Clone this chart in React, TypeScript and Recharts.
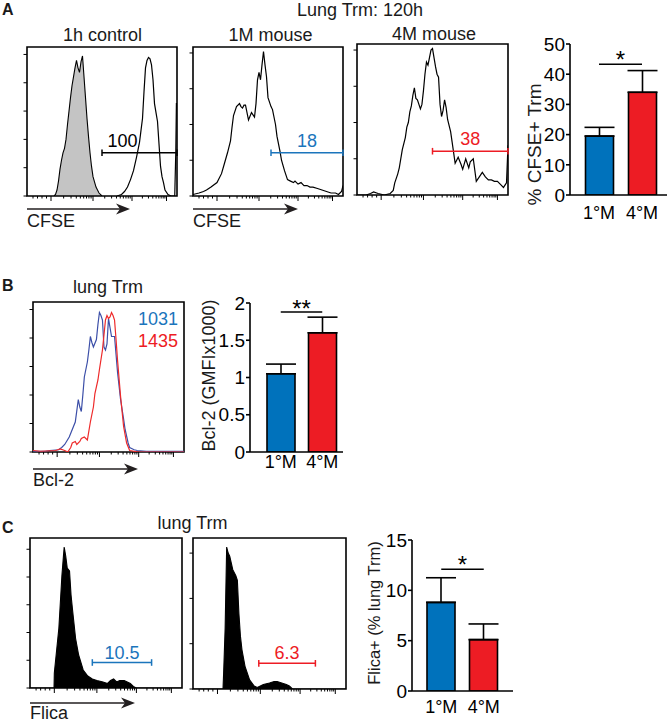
import React from "react"
import {
  ComposedChart,
  Area,
  Line,
  XAxis,
  YAxis,
  ReferenceArea,
  ReferenceLine,
  BarChart,
  Bar,
  Cell,
  ErrorBar,
} from "recharts"

const FONT = '"Liberation Sans", Arial, Helvetica, sans-serif'
const BLUE = "#0072bc"
const RED = "#ed1c24"
const GATE_BLUE = "#1b75bc"

// flow histograms: [channel position 0-100, % of max]
const ctrl1h: [number, number][] = [
  [18, 0], [19, 1], [20, 4], [21, 10], [22, 18], [23, 24], [24, 29], [25, 32], [26, 38], [27, 48],
  [28, 57], [29, 66], [30, 74], [31, 80], [32, 86], [33, 91], [34, 86], [35, 83], [36, 90], [37, 94],
  [38, 80], [39, 66], [40, 52], [41, 40], [42, 29], [43, 20], [44, 13], [46, 6], [48, 2], [50, 0],
]
const div1h: [number, number][] = [
  [60, 0], [63, 1], [65, 3], [67, 6], [69, 11], [71, 17], [73, 26], [75, 36], [76, 44], [77, 52],
  [78, 70], [79, 86], [80, 91], [81, 93], [82, 92], [83, 88], [84, 78], [85, 62], [86, 56], [87, 50],
  [88, 35], [89, 20], [90, 13], [91, 9], [92, 4], [94, 1], [96, 0], [98.5, 0], [99.2, 30], [99.6, 62], [100, 62],
]
const cfse1M: [number, number][] = [
  [0, 1], [4, 2], [7, 3], [9, 4], [12, 6], [16, 9], [19, 15], [21, 22], [23, 29], [25, 37],
  [26, 46], [27, 54], [29, 60], [31, 62], [32, 60], [33, 59], [34, 61], [35, 61], [37, 51], [39, 56],
  [41, 53], [42, 62], [43, 78], [44, 83], [45, 78], [46, 88], [47, 97], [48, 88], [49, 80], [50, 66],
  [52, 60], [53, 58], [55, 48], [56, 40], [58, 30], [59, 24], [61, 17], [63, 11], [65, 10], [67, 9],
  [68, 10], [70, 8], [72, 9], [74, 7], [76, 7], [78, 6], [80, 6], [83, 5], [86, 4], [89, 3],
  [92, 2], [95, 2], [97, 1], [99, 3], [100, 7],
]
const cfse4M: [number, number][] = [
  [0, 0], [6, 0], [9, 1], [11, 2], [14, 1], [18, 0], [22, 1], [24, 3], [25, 8], [27, 14],
  [28, 18], [30, 30], [32, 38], [33, 45], [34, 48], [35, 55], [36, 59], [37, 66], [38, 71], [39, 64],
  [40, 63], [42, 57], [43, 60], [44, 69], [45, 80], [46, 88], [47, 86], [48, 91], [49, 96], [50, 97],
  [51, 91], [52, 85], [53, 80], [54, 78], [55, 60], [56, 52], [57, 56], [58, 63], [59, 58], [60, 50],
  [62, 42], [63, 35], [65, 21], [67, 25], [69, 20], [70, 17], [72, 24], [74, 18], [75, 22], [77, 24],
  [79, 9], [81, 12], [83, 15], [85, 12], [87, 10], [89, 10], [91, 9], [93, 9], [95, 7], [97, 5],
  [99, 8], [100, 33],
]
const bcl1M: [number, number][] = [
  [0, 0.5], [8, 0.5], [11, 1], [17, 1.5], [19, 3], [21, 5], [24, 10], [26, 15], [28, 20], [30, 35],
  [31, 30], [32, 27], [33, 38], [34, 50], [36, 60], [37, 68], [38, 77], [39, 73], [40, 70], [42, 75],
  [43, 85], [44, 93], [45, 91], [46, 88], [47, 70], [48, 68], [49, 72], [50, 89], [51, 83], [52, 77],
  [54, 77], [55, 65], [56, 53], [58, 35], [60, 22], [61, 15], [63, 6], [64, 3], [67, 1.5], [69, 1],
  [75, 0.5], [100, 0.5],
]
const bcl4M: [number, number][] = [
  [0, 1], [5, 0.5], [15, 1], [18, 2], [21, 1], [23, 0], [25, 3], [26, 6], [28, 7], [29, 5],
  [31, 7], [32, 9], [34, 10], [36, 8], [37, 14], [38, 20], [40, 30], [41, 39], [43, 48], [44, 55],
  [46, 68], [47, 78], [48, 88], [49, 91], [50, 89], [51, 90], [52, 93], [53, 91], [54, 88], [55, 75],
  [56, 61], [58, 37], [60, 17], [62, 6], [64, 1], [70, 0], [100, 0],
]
const flica1M: [number, number][] = [
  [0, 0], [15.8, 0], [16, 10], [19, 40], [21, 75], [22, 88], [22.5, 94], [23.5, 88], [24.5, 80], [26, 78],
  [27, 62], [28, 52], [30, 33], [32, 22], [35, 12], [38, 8], [41, 6], [44, 5], [48, 4], [51, 3],
  [53, 5], [55, 6], [57, 4], [59, 5], [62, 5], [64, 4], [66, 3], [68, 1], [70, 0], [100, 0],
]
const flica4M: [number, number][] = [
  [0, 0], [19.6, 0], [20, 10], [21, 40], [22, 94], [23, 90], [24, 88], [26, 79], [28, 75], [29, 72],
  [30, 50], [31, 35], [32, 26], [34, 15], [37, 6], [40, 2], [42, 1], [44, 2], [46, 3], [50, 4],
  [53, 5], [55, 5], [58, 4], [61, 3], [63, 2], [65, 0], [100, 0],
]

// bar charts
const categories = ["1°M", "4°M"]
const barColors = [BLUE, RED]
const cfseMean = [19.5, 34.0]
const cfseSem = [2.9, 7.2]
const cfseTicks = [0, 10, 20, 30, 40, 50]
const bclMean = [1.05, 1.6]
const bclSem = [0.13, 0.21]
const bclTicks = [0, 0.5, 1, 1.5, 2]
const flicaMean = [8.8, 5.1]
const flicaSem = [2.45, 1.56]
const flicaTicks = [0, 5, 10, 15]

// log decades on the histogram x axis
const decades = [16, 44, 70, 93]

function buildLogTicks() {
  const out: { v: number; major: boolean }[] = []
  for (let k = 1; k <= 4; k++) out.push({ v: decades[0] - k * 3, major: false })
  decades.forEach((d, i) => {
    out.push({ v: d, major: true })
    const step = i < decades.length - 1 ? decades[i + 1] - d : decades[i] - decades[i - 1]
    for (let m = 2; m <= 9; m++) {
      const v = d + Math.log10(m) * step
      if (v < 99.5) out.push({ v, major: false })
    }
  })
  return out
}
const logTicks = buildLogTicks()
const majorSet = new Set(logTicks.filter((t) => t.major).map((t) => t.v))

const toXY = (arr: [number, number][]) => arr.map(([x, y]) => ({ x, y }))

type Box = { x: number; y: number; w: number; h: number }
type Trace = { data: [number, number][]; stroke: string; fill?: string }
type Gate = { x1: number; x2: number; y: number; label: string; color: string; dx?: number; off: number }

function Histogram({ box, traces, yTicks, gate }: { box: Box; traces: Trace[]; yTicks: number[]; gate?: Gate }) {
  const mL = 10, mT = 4, mR = 4, mB = 10
  return (
    <div style={{ position: "absolute", left: box.x - mL, top: box.y - mT }}>
      <ComposedChart width={box.w + mL + mR} height={box.h + mT + mB} margin={{ top: mT, right: mR, left: 0, bottom: 0 }}>
        <XAxis
          type="number"
          dataKey="x"
          domain={[0, 100]}
          ticks={logTicks.map((t) => t.v)}
          interval={0}
          height={mB}
          tickSize={0}
          tickMargin={0}
          axisLine={false}
          tickLine={false}
          allowDataOverflow
          tick={(p: any) => (
            <line
              x1={p.x}
              x2={p.x}
              y1={p.y}
              y2={p.y + (majorSet.has(p.payload.value) ? 5 : 2.5)}
              stroke="#000"
              strokeWidth={1}
            />
          )}
        />
        <YAxis
          type="number"
          domain={[0, 100]}
          ticks={yTicks}
          interval={0}
          width={mL}
          tickSize={0}
          tickMargin={0}
          axisLine={false}
          tickLine={false}
          allowDataOverflow
          tick={(p: any) => <line x1={p.x - 3.5} x2={p.x} y1={p.y} y2={p.y} stroke="#000" strokeWidth={1} />}
        />
        {traces.map((t, i) =>
          t.fill ? (
            <Area
              key={i}
              data={toXY(t.data)}
              dataKey="y"
              type="linear"
              stroke={t.stroke}
              strokeWidth={1.1}
              fill={t.fill}
              fillOpacity={1}
              dot={false}
              activeDot={false}
              isAnimationActive={false}
            />
          ) : (
            <Line
              key={i}
              data={toXY(t.data)}
              dataKey="y"
              type="linear"
              stroke={t.stroke}
              strokeWidth={1.2}
              dot={false}
              activeDot={false}
              isAnimationActive={false}
            />
          )
        )}
        <ReferenceArea x1={0} x2={100} y1={0} y2={100} fill="none" stroke="#000" strokeWidth={1.6} ifOverflow="visible" />
        {gate && (
          <ReferenceLine
            segment={[{ x: gate.x1, y: gate.y }, { x: gate.x2, y: gate.y }]}
            stroke={gate.color}
            strokeWidth={1.5}
            ifOverflow="visible"
            label={{
              value: gate.label,
              position: "top",
              offset: gate.off,
              fill: gate.color,
              fontSize: 18,
              fontFamily: FONT,
              dx: gate.dx || 0,
            }}
          />
        )}
        {gate &&
          [gate.x1, gate.x2].map((gx) => (
            <ReferenceLine
              key={gx}
              segment={[{ x: gx, y: gate.y - 2.2 }, { x: gx, y: gate.y + 2.2 }]}
              stroke={gate.color}
              strokeWidth={1.5}
              ifOverflow="visible"
            />
          ))}
      </ComposedChart>
    </div>
  )
}

type Plot = { x: number; y: number; w: number; h: number }

function BarPanel({
  plot, means, sems, domain, ticks, sig, stars, padL, padR, labelGap, starOff,
}: {
  plot: Plot; means: number[]; sems: number[]; domain: [number, number]; ticks: number[]; sig: number
  stars: string; padL: number; padR: number; labelGap: number; starOff: number
}) {
  const yW = 40, mT = 14, mR = 4, xH = 30
  const data = categories.map((c, i) => ({ name: c, v: means[i], e: [0, sems[i]] }))
  const axisStyle = { stroke: "#000", strokeWidth: 1.6 }
  const tickStyle = { fill: "#000", fontSize: 19, fontFamily: FONT }
  return (
    <div style={{ position: "absolute", left: plot.x - yW, top: plot.y - mT }}>
      <BarChart width={yW + plot.w + mR} height={mT + plot.h + xH} data={data} margin={{ top: mT, right: mR, left: 0, bottom: 0 }}>
        <XAxis
          dataKey="name"
          type="category"
          padding={{ left: padL, right: padR }}
          height={xH}
          interval={0}
          tickLine={false}
          tickSize={0}
          tickMargin={labelGap}
          axisLine={axisStyle}
          tick={{ ...tickStyle, fontSize: 18 }}
        />
        <YAxis
          type="number"
          domain={domain}
          ticks={ticks}
          interval={0}
          width={yW}
          tickSize={4}
          tickMargin={1}
          axisLine={axisStyle}
          tickLine={axisStyle}
          tick={tickStyle}
          allowDataOverflow
        />
        <Bar dataKey="v" barSize={28} stroke="#000" strokeWidth={1.6} isAnimationActive={false}>
          {data.map((d, i) => (
            <Cell key={d.name} fill={barColors[i]} />
          ))}
          <ErrorBar dataKey="e" width={15} stroke="#000" strokeWidth={1.6} direction="y" isAnimationActive={false} />
        </Bar>
        <ReferenceLine
          segment={[{ x: categories[0], y: sig }, { x: categories[1], y: sig }]}
          stroke="#000"
          strokeWidth={1.5}
          ifOverflow="visible"
          label={{ value: stars, position: "top", offset: starOff, fill: "#000", fontSize: 24, fontFamily: FONT }}
        />
      </BarChart>
    </div>
  )
}

function Arrow({ x1, x2, y }: { x1: number; x2: number; y: number }) {
  return (
    <g>
      <line x1={x1} x2={x2 - 8} y1={y} y2={y} stroke="#231f20" strokeWidth={1.6} />
      <polygon points={`${x2},${y} ${x2 - 14},${y - 5.5} ${x2 - 10},${y} ${x2 - 14},${y + 5.5}`} fill="#231f20" />
    </g>
  )
}

export default function App() {
  const t = { fontFamily: FONT, fontSize: 18, fill: "#1a1a1a" }
  const letter = { fontFamily: FONT, fontSize: 16, fontWeight: 700, fill: "#1a1a1a" }
  return (
    <div style={{ position: "absolute", left: 0, top: 0, width: 671, height: 723, background: "#fff" }}>
      <Histogram
        box={{ x: 27, y: 47, w: 150, h: 149 }}
        traces={[
          { data: ctrl1h, stroke: "#000", fill: "#c4c4c4" },
          { data: div1h, stroke: "#000" },
        ]}
        yTicks={[0, 19, 38, 57, 76, 95]}
        gate={{ x1: 50, x2: 100, y: 29, label: "100", color: "#000", dx: -17, off: 6 }}
      />
      <Histogram
        box={{ x: 193, y: 47, w: 150, h: 149 }}
        traces={[{ data: cfse1M, stroke: "#000" }]}
        yTicks={[0, 24, 48, 72, 96]}
        gate={{ x1: 52, x2: 100, y: 29, label: "18", color: GATE_BLUE, off: 6 }}
      />
      <Histogram
        box={{ x: 357, y: 44, w: 151, h: 151 }}
        traces={[{ data: cfse4M, stroke: "#000" }]}
        yTicks={[0, 24, 48, 72, 96]}
        gate={{ x1: 50, x2: 100, y: 29, label: "38", color: RED, off: 6 }}
      />
      <BarPanel
        plot={{ x: 570, y: 44, w: 97, h: 151 }}
        means={cfseMean}
        sems={cfseSem}
        domain={[0, 50]}
        ticks={cfseTicks}
        sig={43.3}
        stars="*"
        padL={7.5}
        padR={3.5}
        labelGap={11}
        starOff={-4}
      />

      <Histogram
        box={{ x: 33, y: 302, w: 151, h: 150 }}
        traces={[
          { data: bcl1M, stroke: "#3c4fa8" },
          { data: bcl4M, stroke: "#ee2a2a" },
        ]}
        yTicks={[0, 19, 38, 57, 76, 95]}
      />
      <BarPanel
        plot={{ x: 250, y: 303, w: 93, h: 149 }}
        means={bclMean}
        sems={bclSem}
        domain={[0, 2]}
        ticks={bclTicks}
        sig={1.88}
        stars="**"
        padL={10}
        padR={0}
        labelGap={3}
        starOff={-5}
      />

      <Histogram
        box={{ x: 30, y: 538, w: 152, h: 150 }}
        traces={[{ data: flica1M, stroke: "#000", fill: "#000" }]}
        yTicks={[0, 18.5, 37, 55.5, 74, 92.5]}
        gate={{ x1: 41, x2: 80, y: 17, label: "10.5", color: GATE_BLUE, off: 4 }}
      />
      <Histogram
        box={{ x: 193, y: 538, w: 153, h: 151 }}
        traces={[{ data: flica4M, stroke: "#000", fill: "#000" }]}
        yTicks={[0, 30, 60, 90]}
        gate={{ x1: 43, x2: 80, y: 17, label: "6.3", color: RED, off: 4 }}
      />
      <BarPanel
        plot={{ x: 412, y: 540, w: 101, h: 151 }}
        means={flicaMean}
        sems={flicaSem}
        domain={[0, 15]}
        ticks={flicaTicks}
        sig={12.1}
        stars="*"
        padL={8}
        padR={8}
        labelGap={9}
        starOff={-4}
      />

      <svg width={671} height={723} style={{ position: "absolute", left: 0, top: 0, pointerEvents: "none" }}>
        <text x={2} y={15} {...letter}>A</text>
        <text x={360} y={16} textAnchor="middle" {...t}>Lung Trm: 120h</text>
        <text x={102.5} y={41} textAnchor="middle" {...t}>1h control</text>
        <text x={270.5} y={41} textAnchor="middle" {...t}>1M mouse</text>
        <text x={434} y={40} textAnchor="middle" {...t}>4M mouse</text>
        <Arrow x1={27} x2={130} y={209} />
        <Arrow x1={193} x2={298} y={209} />
        <text x={27} y={227} {...t}>CFSE</text>
        <text x={193} y={227} {...t}>CFSE</text>
        <text x={534.5} y={144.5} textAnchor="middle" dominantBaseline="central" transform="rotate(-90 534.5 144.5)" {...t} fontSize={19}>
          % CFSE+ Trm
        </text>

        <text x={2} y={291} {...letter}>B</text>
        <text x={108} y={293} textAnchor="middle" {...t}>lung Trm</text>
        <text x={178} y={325} textAnchor="end" {...t} fill={GATE_BLUE}>1031</text>
        <text x={178} y={347} textAnchor="end" {...t} fill={RED}>1435</text>
        <Arrow x1={33} x2={138} y={469} />
        <text x={33} y={486} {...t}>Bcl-2</text>
        <text x={209} y={375.5} textAnchor="middle" dominantBaseline="central" transform="rotate(-90 209 375.5)" {...t}>
          Bcl-2 (GMFIx1000)
        </text>

        <text x={2} y={533} {...letter}>C</text>
        <text x={192.5} y={529} textAnchor="middle" {...t}>lung Trm</text>
        <Arrow x1={30} x2={135} y={703} />
        <text x={30} y={719} {...t}>Flica</text>
        <text x={374} y={613} textAnchor="middle" dominantBaseline="central" transform="rotate(-90 374 613)" {...t} fontSize={16.5}>
          Flica+ (% lung Trm)
        </text>
      </svg>
    </div>
  )
}
